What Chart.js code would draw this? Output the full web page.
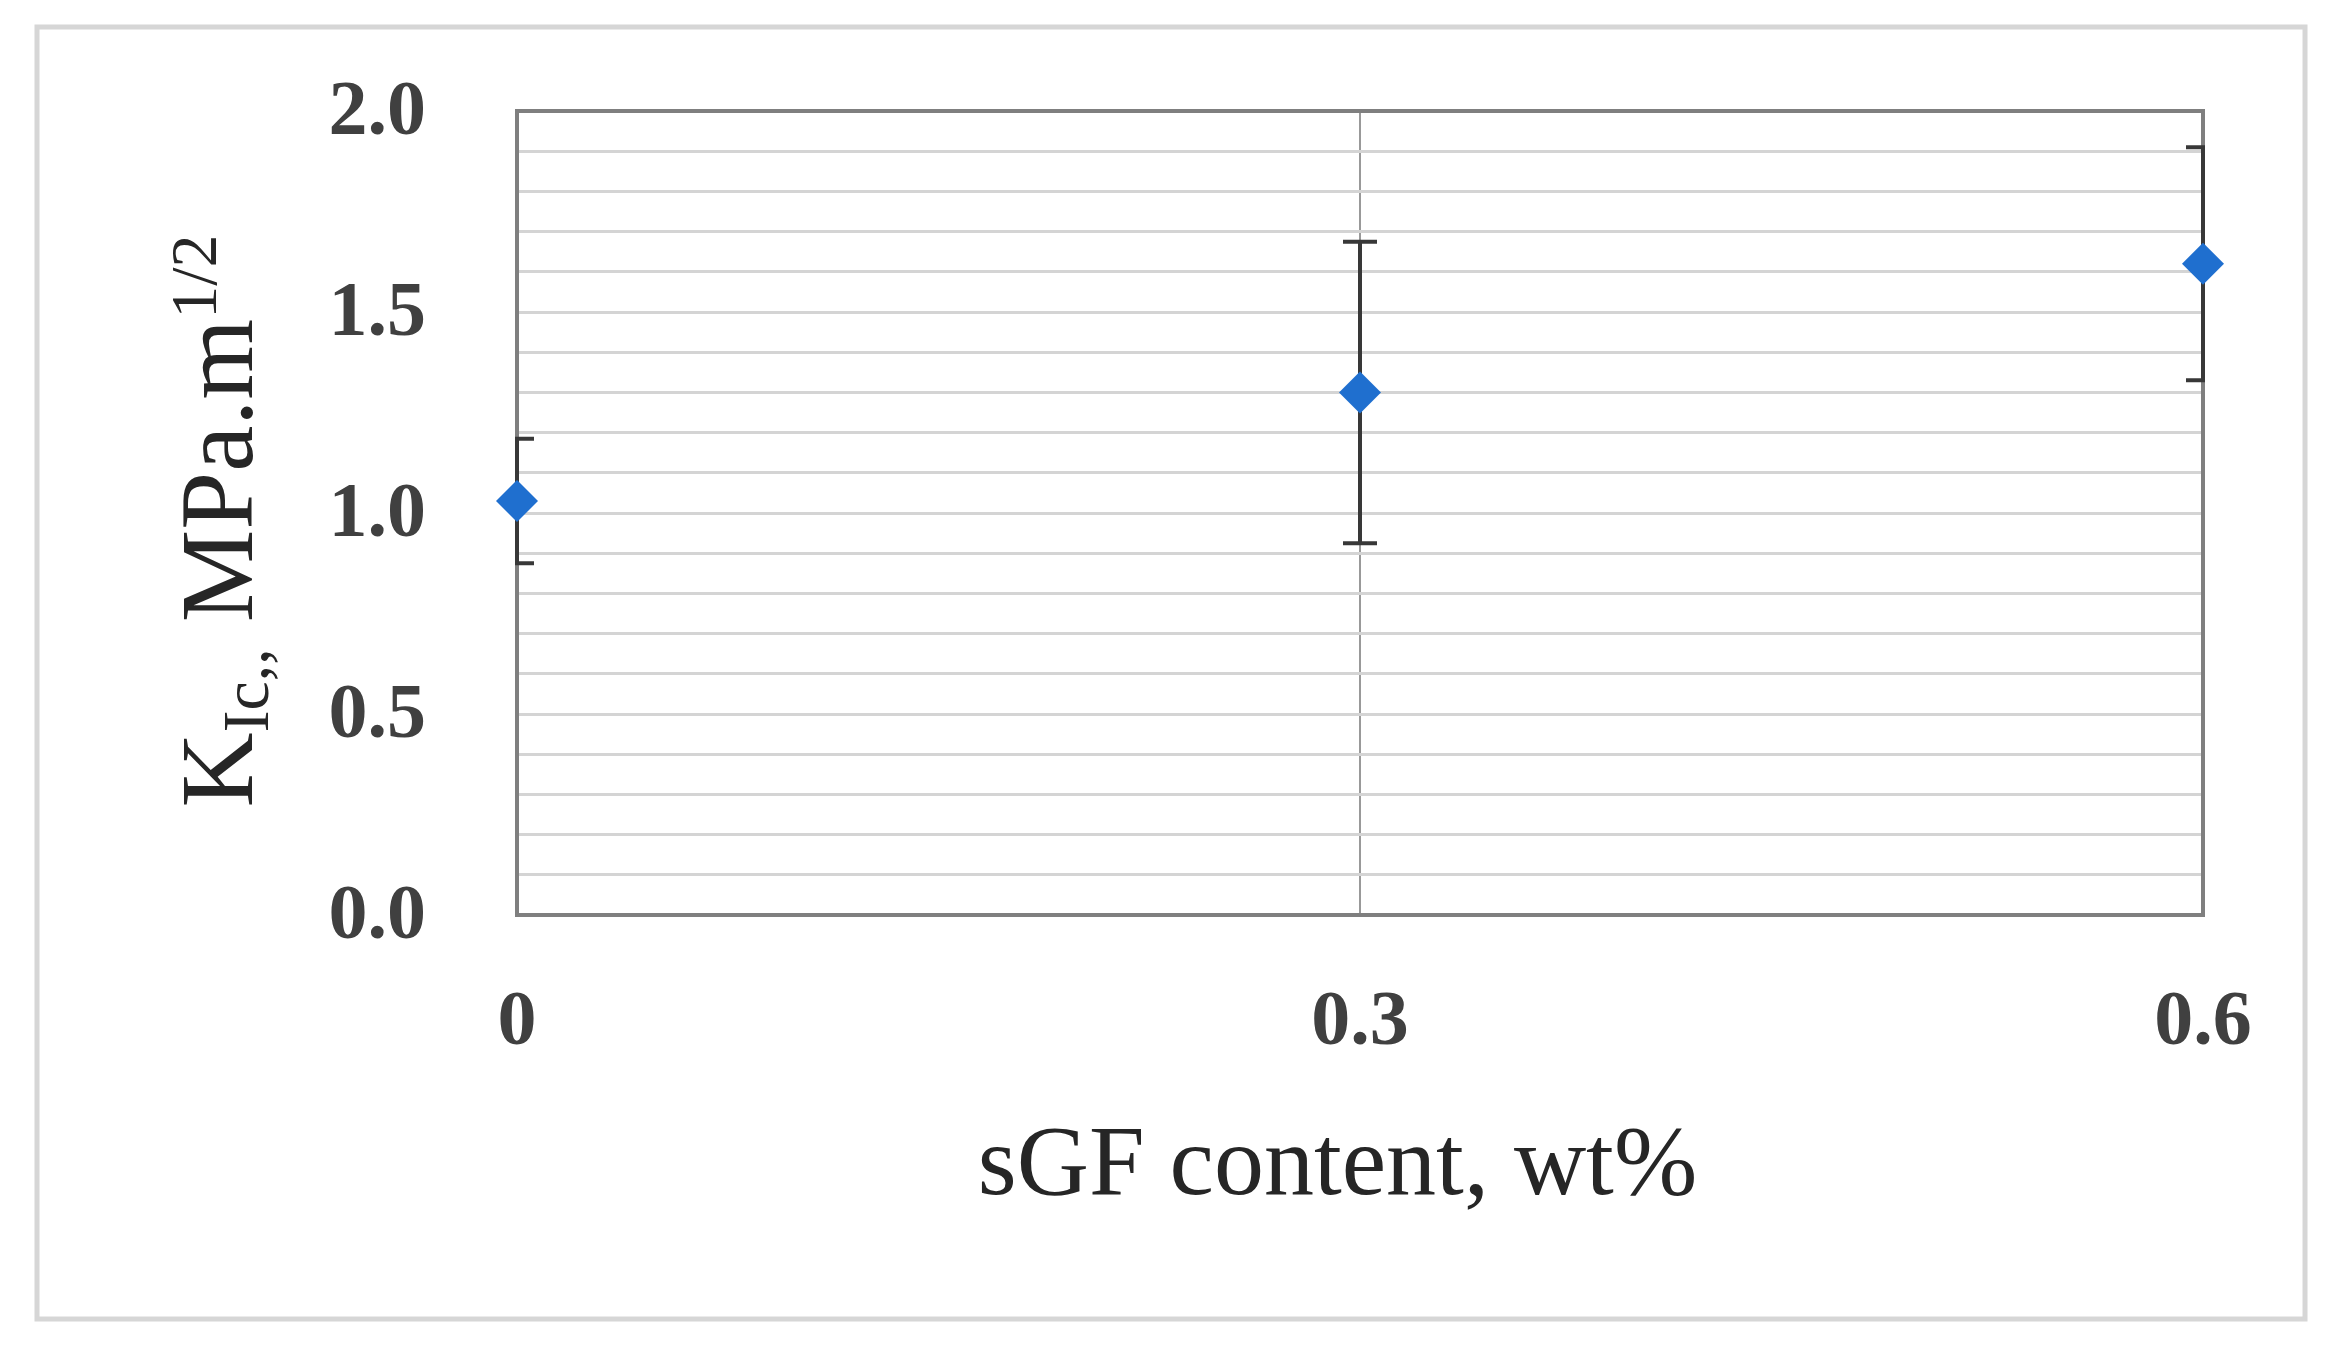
<!DOCTYPE html>
<html>
<head>
<meta charset="utf-8">
<script src="https://cdn.jsdelivr.net/npm/chart.js@4.4.0/dist/chart.umd.min.js"></script>
<style>
  html, body { margin: 0; padding: 0; background: #ffffff; }
  #wrap { width: 2345px; height: 1352px; position: relative; }
</style>
</head>
<body>
<div id="wrap"><canvas id="kicChart"></canvas></div>
<script>
// sGF content (wt%) and fracture toughness readings
var contents = [0, 0.3, 0.6];
var kicValues = [1.03, 1.30, 1.62];
var kicErrors = [0.155, 0.375, 0.29];
var yMajorLabels = ['0.0', '0.5', '1.0', '1.5', '2.0'];

var serif = "'Liberation Serif', 'Times New Roman', serif";

// white page with light grey frame
var framePlugin = {
    id: 'frame',
    beforeDraw: function(chart) {
        var ctx = chart.ctx;
        ctx.save();
        ctx.fillStyle = '#ffffff';
        ctx.fillRect(0, 0, chart.width, chart.height);
        ctx.strokeStyle = '#d6d6d6';
        ctx.lineWidth = 5;
        ctx.strokeRect(37, 27, 2268, 1292);
        ctx.restore();
    }
};

// plot box border + error bars, drawn under the markers
var errorBarPlugin = {
    id: 'errorBars',
    beforeDatasetsDraw: function(chart) {
        var ctx = chart.ctx;
        var area = chart.chartArea;
        var xs = chart.scales.x, ys = chart.scales.y;

        ctx.save();
        ctx.strokeStyle = '#7f7f7f';
        ctx.lineWidth = 4;
        ctx.strokeRect(area.left, area.top, area.right - area.left, area.bottom - area.top);
        ctx.restore();

        ctx.save();
        ctx.beginPath();
        ctx.rect(area.left - 2, area.top, area.right - area.left + 4, area.bottom - area.top);
        ctx.clip();
        ctx.strokeStyle = '#383838';
        ctx.lineWidth = 4;
        for (var i = 0; i < contents.length; i++) {
            var px = xs.getPixelForValue(contents[i]);
            var top = ys.getPixelForValue(kicValues[i] + kicErrors[i]);
            var bot = ys.getPixelForValue(kicValues[i] - kicErrors[i]);
            ctx.beginPath();
            ctx.moveTo(px, top);
            ctx.lineTo(px, bot);
            ctx.moveTo(px - 17, top);
            ctx.lineTo(px + 17, top);
            ctx.moveTo(px - 17, bot);
            ctx.lineTo(px + 17, bot);
            ctx.stroke();
        }
        ctx.restore();
    }
};

// y title with subscript and superscript
var yTitlePlugin = {
    id: 'yTitle',
    afterDraw: function(chart) {
        var ctx = chart.ctx;
        var area = chart.chartArea;
        var big = 104, small = 66;
        var parts = [
            { t: 'K', size: big, dy: 0 },
            { t: 'Ic,,', size: small, dy: 16 },
            { t: ' MPa.m', size: big, dy: 0 },
            { t: '1/2', size: small, dy: -36 }
        ];
        ctx.save();
        ctx.fillStyle = '#262626';
        ctx.textBaseline = 'alphabetic';
        ctx.textAlign = 'left';
        var total = 0;
        parts.forEach(function(p) {
            ctx.font = p.size + 'px ' + serif;
            p.w = ctx.measureText(p.t).width;
            total += p.w;
        });
        ctx.translate(252, (area.top + area.bottom) / 2 + 8);
        ctx.rotate(-Math.PI / 2);
        var x = -total / 2;
        parts.forEach(function(p) {
            ctx.font = p.size + 'px ' + serif;
            ctx.fillText(p.t, x, p.dy);
            x += p.w;
        });
        ctx.restore();
    }
};

function createChart() {
    var ctx = document.getElementById('kicChart').getContext('2d');
    var points = contents.map(function(c, i) {
        return { x: c, y: kicValues[i] };
    });

    new Chart(ctx, {
        type: 'scatter',
        data: {
            datasets: [{
                label: 'KIc',
                data: points,
                pointStyle: 'rectRot',
                pointRadius: 21,
                pointHoverRadius: 21,
                backgroundColor: '#1f6fcf',
                borderColor: '#1f6fcf',
                borderWidth: 0,
                showLine: false,
                clip: false
            }]
        },
        options: {
            responsive: false,
            animation: false,
            devicePixelRatio: 1,
            layout: { padding: { left: 0, top: 111, right: 142, bottom: 124 } },
            plugins: {
                legend: { display: false },
                tooltip: { enabled: false }
            },
            scales: {
                x: {
                    type: 'linear',
                    min: 0,
                    max: 0.6,
                    afterFit: function(s) { s.height = 313; },
                    border: { display: false },
                    grid: { color: '#999999', lineWidth: 2, drawTicks: false },
                    ticks: {
                        stepSize: 0.3,
                        padding: 62,
                        color: '#404040',
                        font: { family: serif, size: 78, weight: 'bold' },
                        callback: function(v) { return String(Math.round(v * 10) / 10); }
                    },
                    title: {
                        display: true,
                        text: 'sGF content, wt% \u2009',
                        color: '#262626',
                        padding: 0,
                        font: { family: serif, size: 100 }
                    }
                },
                y: {
                    min: 0,
                    max: 2,
                    afterFit: function(s) { s.width = 517; },
                    border: { display: false },
                    grid: {
                        color: '#d4d4d4',
                        lineWidth: 3,
                        drawTicks: true,
                        tickLength: 91,
                        tickColor: 'rgba(0,0,0,0)'
                    },
                    ticks: {
                        stepSize: 0.1,
                        autoSkip: false,
                        padding: 0,
                        labelOffset: 3,
                        color: '#404040',
                        font: { family: serif, size: 78, weight: 'bold' },
                        callback: function(v) {
                            var k = Math.round(v * 10);
                            return k % 5 === 0 ? yMajorLabels[k / 5] : '';
                        }
                    }
                }
            }
        },
        plugins: [framePlugin, errorBarPlugin, yTitlePlugin]
    });
}

var cv = document.getElementById('kicChart');
cv.width = 2345;
cv.height = 1352;
cv.style.width = '2345px';
cv.style.height = '1352px';
document.addEventListener('DOMContentLoaded', createChart);
</script>
</body>
</html>
